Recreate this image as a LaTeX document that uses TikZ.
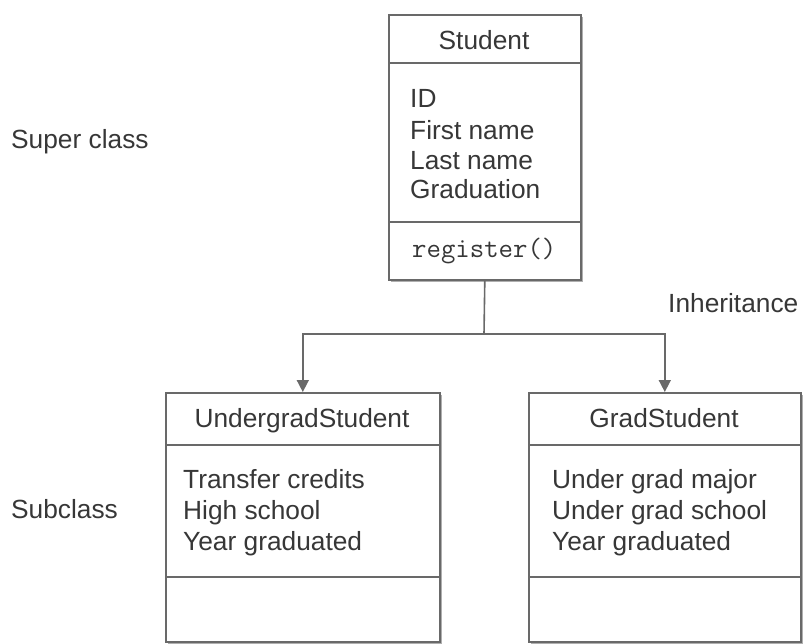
\documentclass[tikz,border=0pt]{standalone}
\usepackage{fontspec}
\setmainfont{Liberation Sans}
\usetikzlibrary{arrows.meta,shadows}

\definecolor{linegray}{RGB}{105,105,105}
\definecolor{textgray}{RGB}{55,55,55}
\definecolor{shadegray}{RGB}{175,175,175}

\begin{document}
\begin{tikzpicture}[x=1pt,y=-1pt,
  classbox/.style={draw=linegray, line width=1.6pt, fill=white, inner sep=0pt,
    anchor=north west,
    drop shadow={shadow xshift=2pt, shadow yshift=-2pt, fill=shadegray, opacity=1}},
  divider/.style={draw=linegray, line width=1.6pt},
  txt/.style={text=textgray, inner sep=0pt, font=\fontsize{26.3}{31}\selectfont},
  title/.style={txt, anchor=base},
  attr/.style={txt, anchor=base west},
  code/.style={attr, font=\ttfamily\fontsize{28}{31}\selectfont},
  inherit/.style={draw=linegray, line width=1.6pt,
    -{Triangle[length=12pt,width=12pt]}}
]
\useasboundingbox (0,0) rectangle (806,643);

% class boxes
\node[classbox, minimum width=192pt, minimum height=265pt] (student) at (388,14) {};
\node[classbox, minimum width=274pt, minimum height=249pt] (ugrad) at (165,392) {};
\node[classbox, minimum width=272pt, minimum height=249pt] (grad) at (528,392) {};

% compartment dividers
\draw[divider] (388,63) -- (580,63);
\draw[divider] (388,222) -- (580,222);
\draw[divider] (165,445) -- (439,445);
\draw[divider] (165,577) -- (439,577);
\draw[divider] (528,445) -- (800,445);
\draw[divider] (528,577) -- (800,577);

% Student
\node[title] (stitle) at (484,49) {Student};
\node[attr] (s1) at (410,107) {ID};
\node[attr] (s2) at (410,139) {First name};
\node[attr] (s3) at (410,169) {Last name};
\node[attr] (s4) at (410,198) {Graduation};
\node[code] (sop) at (412,257) {register()};

% UndergradStudent
\node[title] (utitle) at (302,427) {UndergradStudent};
\node[attr] (u1) at (183,488) {Transfer credits};
\node[attr] (u2) at (183,519) {High school};
\node[attr] (u3) at (183,550) {Year graduated};

% GradStudent
\node[title] (gtitle) at (664,427) {GradStudent};
\node[attr] (g1) at (552,488) {Under grad major};
\node[attr] (g2) at (552,519) {Under grad school};
\node[attr] (g3) at (552,550) {Year graduated};

% side labels
\node[attr] (lsuper) at (11,148) {Super class};
\node[attr] (lsub) at (11,518) {Subclass};
\node[attr] (linh) at (668,312) {Inheritance};

% inheritance connectors
\coordinate (split) at (484,334);
\draw[divider] (student.south) -- (split);
\draw[inherit] (split) -| (ugrad.north);
\draw[inherit] (split) -| (grad.north);
\end{tikzpicture}
\end{document}
